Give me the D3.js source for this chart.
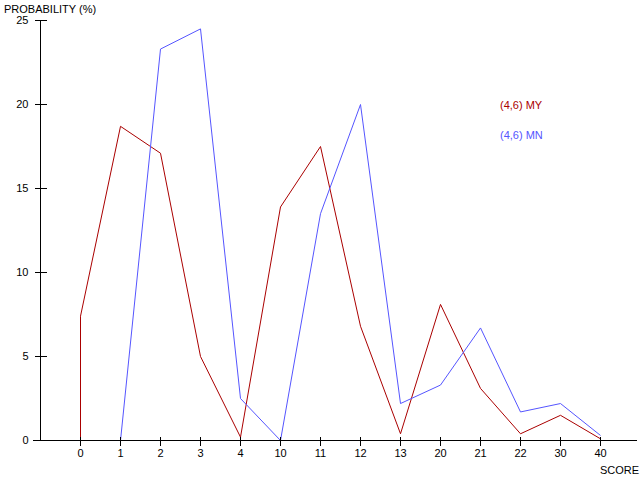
<!DOCTYPE html>
<html><head><meta charset="utf-8">
<script src="https://cdn.jsdelivr.net/npm/d3@7"></script>
<style>body{margin:0;background:#fff}svg{display:block}text{font-family:"Liberation Sans",Arial,sans-serif;font-size:11px;fill:#000}</style>
</head><body>
<script>
const categories = ["0","1","2","3","4","10","11","12","13","20","21","22","30","40"];
const seriesMY = [7.4,18.7,17.1,5.0,0.2,13.9,17.5,6.8,0.4,8.1,3.1,0.4,1.5,0.1];
const seriesMN = [0,0,23.3,24.5,2.5,0,13.5,20.0,2.2,3.3,6.7,1.7,2.2,0.3];
const yTicks = [0,5,10,15,20,25];
const seriesNames = ["(4,6) MY","(4,6) MN"];
const colors = ["#aa0000","#5555ff"];

const W=640,H=480;
const svg=d3.select("body").append("svg").attr("width",W).attr("height",H);
const x=d3.scalePoint().domain(categories).range([80,600]);
const y=d3.scaleLinear().domain([0,25]).range([440,20]);

// series (drawn first so axes sit on top)
const line=d3.line().x(d=>x(d[0])+0.5).y(d=>y(d[1])+0.5);
[seriesMY,seriesMN].forEach((s,i)=>{
  const pts=[[categories[0],0]].concat(categories.map((c,j)=>[c,s[j]]));
  svg.append("path").attr("d",line(pts)).attr("fill","none")
    .attr("stroke",colors[i]).attr("stroke-width",1);
});

// y axis
const ya=svg.append("g").attr("transform","translate(40.5,0)")
  .call(d3.axisLeft(y).tickValues(yTicks).tickSize(6).tickPadding(10));
ya.select(".domain").attr("d","M0,20V440").attr("shape-rendering","crispEdges");
ya.selectAll(".tick line").attr("x1",6).attr("x2",-6).attr("shape-rendering","crispEdges");
ya.selectAll(".tick").attr("transform",d=>`translate(0,${Math.round(y(d))+0.5})`);
ya.selectAll("text").style("font-size","11px").style("font-family","Liberation Sans, Arial, sans-serif").attr("x",-12);

// x axis
const xa=svg.append("g").attr("transform","translate(0,440.5)")
  .call(d3.axisBottom(x).tickSize(5).tickPadding(6));
xa.select(".domain").attr("d","M33,0H637").attr("shape-rendering","crispEdges");
xa.selectAll(".tick line").attr("y1",-4).attr("y2",5).attr("shape-rendering","crispEdges");
xa.selectAll(".tick").attr("transform",d=>`translate(${x(d)+0.5},0)`);
xa.selectAll("text").style("font-size","11px").style("font-family","Liberation Sans, Arial, sans-serif").attr("y",9);

// legend
seriesNames.forEach((n,i)=>{
  svg.append("text").attr("x",500).attr("y",109+i*30).style("fill",colors[i]).text(n);
});

svg.append("text").attr("x",4).attr("y",13).text("PROBABILITY (%)");
svg.append("text").attr("x",600).attr("y",474).text("SCORE");
</script>
</body></html>
